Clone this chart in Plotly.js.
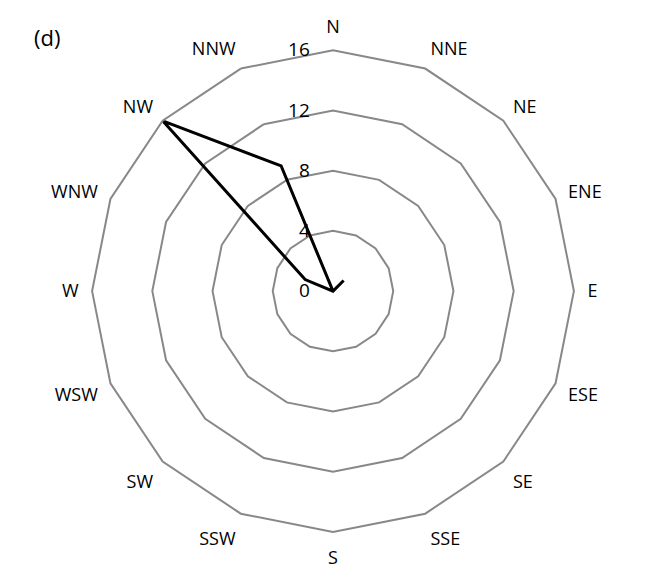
<!DOCTYPE html>
<html>
<head>
<meta charset="utf-8">
<script src="https://cdn.plot.ly/plotly-3.0.1.min.js"></script>
<style>body{margin:0;background:#fff}#chart{width:669px;height:584px}</style>
</head>
<body>
<div id="chart"></div>
<script>
var directions = ['N', 'NNE', 'NE', 'ENE', 'E', 'ESE', 'SE', 'SSE',
                  'S', 'SSW', 'SW', 'WSW', 'W', 'WNW', 'NW', 'NNW'];
var frequency = [0, 0, 1, 0, 0, 0, 0, 0, 0, 0, 0, 0, 0, 2, 16, 9];
var radialTicks = [0, 4, 8, 12, 16];

var trace = {
  type: 'scatterpolar',
  r: frequency.concat([frequency[0]]),
  theta: directions.concat([directions[0]]),
  mode: 'lines',
  line: {color: '#000', width: 3},
  hoverinfo: 'skip'
};

var layout = {
  width: 669, height: 584,
  margin: {l: 0, r: 0, t: 0, b: 0},
  paper_bgcolor: '#fff',
  showlegend: false,
  font: {family: 'Open Sans, sans-serif', size: 18, color: '#000'},
  polar: {
    domain: {x: [0.1375, 0.858], y: [0.089, 0.914]},
    gridshape: 'linear',
    bgcolor: '#fff',
    radialaxis: {
      range: [0, 16],
      tickvals: radialTicks,
      angle: 90,
      tickangle: 90,
      side: 'counterclockwise',
      showline: false,
      ticks: 'outside',
      ticklen: 16,
      tickcolor: 'rgba(0,0,0,0)',
      gridcolor: '#888',
      gridwidth: 2,
      tickfont: {size: 19}
    },
    angularaxis: {
      direction: 'clockwise',
      rotation: 90,
      showgrid: false,
      showline: true,
      linecolor: '#888',
      linewidth: 2,
      ticks: 'outside',
      ticklen: 9,
      tickcolor: 'rgba(0,0,0,0)',
      tickfont: {size: 18}
    }
  },
  annotations: [{
    text: '(d)', xref: 'paper', yref: 'paper',
    xanchor: 'center', yanchor: 'middle',
    showarrow: false, font: {size: 22}
  }]
};
layout.annotations[0].x = 47 / 669;
layout.annotations[0].y = 1 - 37 / 584;

Plotly.newPlot('chart', [trace], layout, {displayModeBar: false});
</script>
</body>
</html>
